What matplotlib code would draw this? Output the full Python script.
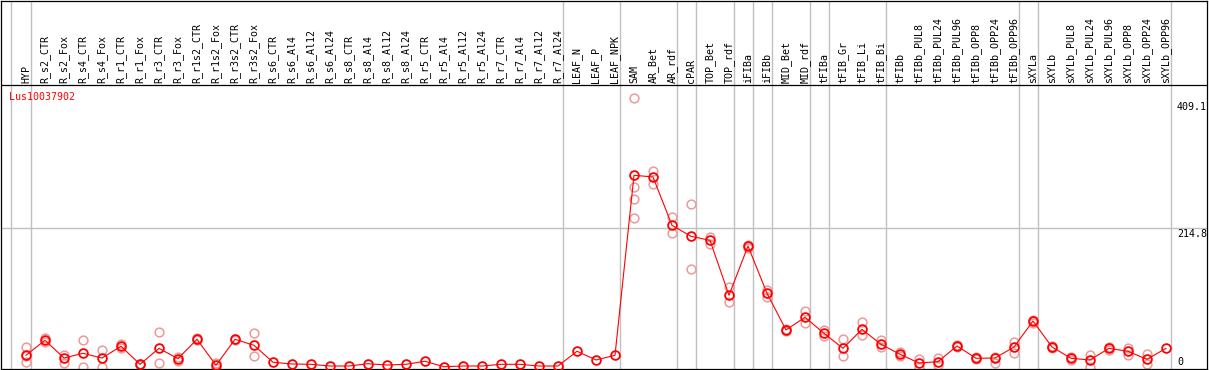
"""
Lus10037902 表达谱 (各组织/处理样本的均值折线 + 重复点).
"""
import matplotlib
matplotlib.use('Agg')
import matplotlib.pyplot as plt
import matplotlib.transforms as mtransforms

plt.rcParams.update({
    'font.family': ['DejaVu Sans Mono'],
    'font.size': 7.2,
    'axes.linewidth': 0.9,
    'figure.dpi': 100,
})

GENE = 'Lus10037902'

SAMPLES = [
    'HYP',
    'R_s2_CTR', 'R_s2_Fox', 'R_s4_CTR', 'R_s4_Fox', 'R_r1_CTR', 'R_r1_Fox',
    'R_r3_CTR', 'R_r3_Fox', 'R_r1s2_CTR', 'R_r1s2_Fox', 'R_r3s2_CTR', 'R_r3s2_Fox',
    'R_s6_CTR', 'R_s6_Al4', 'R_s6_Al12', 'R_s6_Al24',
    'R_s8_CTR', 'R_s8_Al4', 'R_s8_Al12', 'R_s8_Al24',
    'R_r5_CTR', 'R_r5_Al4', 'R_r5_Al12', 'R_r5_Al24',
    'R_r7_CTR', 'R_r7_Al4', 'R_r7_Al12', 'R_r7_Al24',
    'LEAF_N', 'LEAF_P', 'LEAF_NPK',
    'SAM', 'AR_Bet', 'AR_rdf', 'cPAR', 'TOP_Bet', 'TOP_rdf',
    'iFIBa', 'iFIBb', 'MID_Bet', 'MID_rdf', 'tFIBa',
    'tFIB_Gr', 'tFIB_Li', 'tFIB_Bi',
    'tFIBb', 'tFIBb_PUL8', 'tFIBb_PUL24', 'tFIBb_PUL96',
    'tFIBb_OPP8', 'tFIBb_OPP24', 'tFIBb_OPP96',
    'sXYLa', 'sXYLb', 'sXYLb_PUL8', 'sXYLb_PUL24', 'sXYLb_PUL96',
    'sXYLb_OPP8', 'sXYLb_OPP24', 'sXYLb_OPP96',
]

# 均值
MEAN = [
    20.2,
    43.1, 16.0, 23.2, 16.0, 33.9, 6.4, 30.8, 15.0, 44.6, 4.9, 44.6, 35.4,
    9.5, 6.9, 6.4, 3.8, 3.8, 7.3, 5.3, 6.4, 11.0, 2.7, 3.8, 3.8,
    6.4, 6.4, 3.8, 3.8,
    26.3, 13.0, 20.2,
    295.0, 292.4, 218.6, 201.8, 195.7, 111.8,
    187.0, 114.8, 58.8, 78.2, 53.7,
    30.8, 59.8, 36.9,
    21.7, 8.4, 10.4, 34.4, 15.6, 16.0, 32.8,
    72.5, 32.8, 15.6, 13.0, 30.8, 26.3, 14.0, 30.8,
]

# 生物学重复 (无重复的样本为空)
REPS = [
    [32.8, 9.5, 18.5],
    [46.0, 41.0], [21.1, 8.9], [43.5, 2.7], [28.2, 2.7], [37.0, 31.0], [7.5, 5.5],
    [55.3, 7.9], [18.0, 11.9], [46.0, 43.0], [8.5, 1.5], [45.5, 43.5], [54.2, 18.6],
    [], [], [], [], [], [], [], [], [], [], [], [], [], [], [], [],
    [], [], [],
    [412.5, 276.6, 258.3, 229.3], [301.5, 281.2], [231.3, 207.3],
    [250.7, 151.5], [201.2, 190.1], [124.0, 102.0],
    [188.5, 183.5], [119.8, 109.6], [59.8, 57.3], [87.8, 69.9], [58.8, 49.6],
    [44.6, 19.1], [70.5, 51.1], [43.5, 33.3],
    [25.6, 19.1], [14.5, 2.7], [15.6, 5.3], [35.5, 33.5],
    [17.0, 14.5], [18.0, 7.9], [40.0, 23.2],
    [74.0, 69.9], [34.0, 32.0], [18.0, 13.0], [20.6, 2.7],
    [33.3, 28.2], [30.8, 20.6], [22.1, 6.9], [],
]

# 每组最后一个样本的下标 (组间画竖线)
GROUP_ENDS = [0, 28, 31, 34, 35, 37, 38, 39, 41, 42, 45, 52, 53, 60]
Y_LABELS = [409.1, 214.8, 0]
GRID_Y = 214.8

C_MAIN = '#FF0000'
C_REP = '#EC9A9A'
C_GRID = '#C0C0C0'

# ---- 像素布局 ----
W, H = 1209, 370
X0_PX, STEP_PX = 26, 19          # 第一个样本的 x 像素, 样本间距
AX_L, AX_R = 1, 1207             # 左右边框
AX_BOT, HEAD_PX = 368.5, 85      # 零线 / 表头分隔线 (自上而下像素)
PX_PER_UNIT = 0.655

fig = plt.figure(figsize=(W / 100, H / 100), dpi=100)
ax = fig.add_axes([AX_L / W, (H - AX_BOT) / H, (AX_R - AX_L) / W, (AX_BOT - 0.5) / H])
ax.set_xlim((AX_L - X0_PX) / STEP_PX, (AX_R - X0_PX) / STEP_PX)
ax.set_ylim(0, (AX_BOT - 0.5) / PX_PER_UNIT)
ax.set_xticks([])
ax.set_yticks([])
for sp in ax.spines.values():
    sp.set_color('black')

head_y = (AX_BOT - HEAD_PX) / PX_PER_UNIT
ax.axhline(head_y, color='black', lw=0.9, zorder=3)
ax.axhline(GRID_Y, color=C_GRID, lw=1.0, zorder=0)

# 组间竖线
ax.axvline(-0.8, color=C_GRID, lw=1.0, zorder=0)
for e in GROUP_ENDS:
    ax.axvline(e + 0.24, color=C_GRID, lw=1.0, zorder=0)

xs = list(range(len(SAMPLES)))
for i, reps in enumerate(REPS):
    if reps:
        ax.plot([i] * len(reps), reps, 'o', ms=6.3, mfc='none', mec=C_REP,
                mew=1.1, zorder=2, clip_on=False)
ax.plot(xs, MEAN, '-', color=C_MAIN, lw=0.8, marker='o', ms=6.3, mfc='none',
        mec=C_MAIN, mew=1.3, zorder=4, clip_on=False)

# 表头: 竖排样本名
for i, name in enumerate(SAMPLES):
    ax.text(i, head_y + 3, name, rotation=90, ha='center', va='bottom',
            color='black')

ax.text(9 / W, 1 - 97 / H, GENE, transform=fig.transFigure, color=C_MAIN,
        ha='left', va='center')

trans = mtransforms.blended_transform_factory(fig.transFigure, ax.transData)
for v in Y_LABELS:
    lab = f'{v:.1f}' if v else '0'
    ax.text(1177 / W, v + (2 if v == 0 else -2), lab, transform=trans,
            ha='left', va='bottom' if v == 0 else 'top', color='black')

fig.savefig('out.png', dpi=100, facecolor='white')
